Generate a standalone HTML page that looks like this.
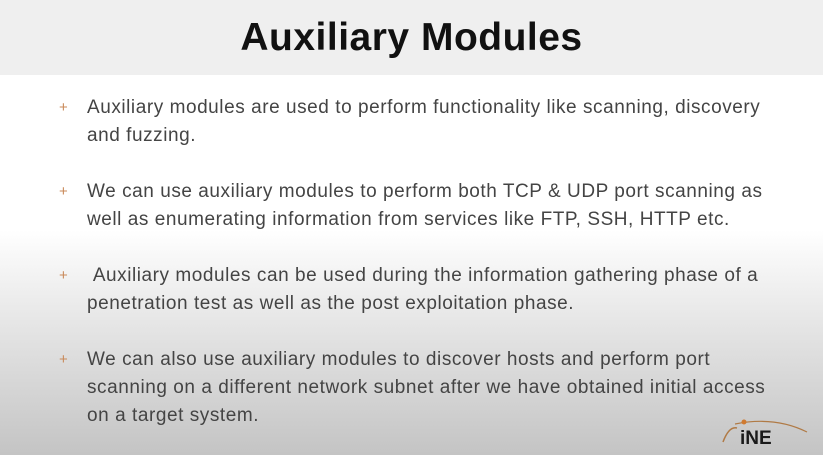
<!DOCTYPE html>
<html><head><style>
html,body{margin:0;padding:0}
body{width:823px;height:455px;overflow:hidden;position:relative;font-family:"Liberation Sans",sans-serif;
background:linear-gradient(to bottom,#ffffff 0px,#ffffff 230px,#e4e4e4 330px,#c4c4c4 455px);}
.hdr{position:absolute;left:0;top:0;width:823px;height:75px;background:#efefef;}
.hdr h1{margin:0;position:absolute;top:16px;width:100%;text-align:center;font-size:39px;font-weight:bold;color:#111;letter-spacing:0.5px}
.p{position:absolute;left:87px;font-size:19px;line-height:28px;color:#444;white-space:nowrap;letter-spacing:0.55px}
.plus{position:absolute;left:59px;color:#c98a5a;font-size:15px}
</style></head><body>
<div class="hdr"><h1>Auxiliary Modules</h1></div>
<div class="plus" style="top:99px">+</div>
<div class="p" style="top:94px">Auxiliary modules are used to perform functionality like scanning, discovery<br>and fuzzing.</div>
<div class="plus" style="top:183px">+</div>
<div class="p" style="top:178px">We can use auxiliary modules to perform both TCP &amp; UDP port scanning as<br>well as enumerating information from services like FTP, SSH, HTTP etc.</div>
<div class="plus" style="top:267px">+</div>
<div class="p" style="top:262px">&nbsp;Auxiliary modules can be used during the information gathering phase of a<br>penetration test as well as the post exploitation phase.</div>
<div class="plus" style="top:351px">+</div>
<div class="p" style="top:346px">We can also use auxiliary modules to discover hosts and perform port<br>scanning on a different network subnet after we have obtained initial access<br>on a target system.</div>
<svg style="position:absolute;left:715px;top:418px" width="95" height="30">
<path d="M8 24 Q14 8 22 10" stroke="#b07a45" fill="none" stroke-width="1.5"/>
<path d="M20 6 Q60 -2 92 14" stroke="#b07a45" fill="none" stroke-width="1.2"/>
<circle cx="29" cy="4" r="2.5" fill="#d07a30"/>
<text x="25" y="26" font-family="Liberation Sans" font-weight="bold" font-size="19" fill="#1a1a1a">iNE</text>
</svg>
</body></html>
